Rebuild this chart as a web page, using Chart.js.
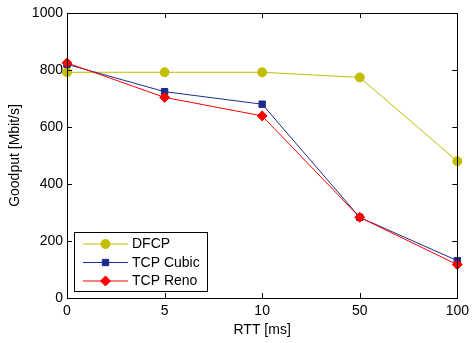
<!DOCTYPE html>
<html>
<head>
<meta charset="utf-8">
<script src="https://cdn.jsdelivr.net/npm/chart.js@4/dist/chart.umd.min.js"></script>
<style>
  html, body { margin: 0; padding: 0; background: #fff; }
  #wrap { width: 474px; height: 343px; }
</style>
</head>
<body>
<div id="wrap"><canvas id="chart" width="474" height="343"></canvas></div>
<script>
const rttLabels = ["0", "5", "10", "50", "100"];
const dfcp = [792, 792, 792, 774, 480];
const tcpCubic = [820, 724, 680, 283, 131];
const tcpReno = [825, 704, 639, 283, 117];
const yTicks = [0, 200, 400, 600, 800, 1000];

const FONT = "'Liberation Sans', Arial, sans-serif";

// MATLAB style box with inward ticks + legend inside the plot
const boxPlugin = {
  id: "matlabBox",
  afterDatasetsDraw(chart) {
    const { ctx, chartArea: a, scales: { x, y } } = chart;
    ctx.save();
    ctx.strokeStyle = "#000";
    ctx.lineWidth = 1;
    ctx.strokeRect(Math.round(a.left) + 0.5, Math.round(a.top) + 0.5, Math.round(a.right - a.left), Math.round(a.bottom - a.top));
    ctx.beginPath();
    const tl = 5;
    y.ticks.forEach((t) => {
      const py = Math.round(y.getPixelForValue(t.value)) + 0.5;
      ctx.moveTo(a.left, py); ctx.lineTo(a.left + tl, py);
      ctx.moveTo(a.right, py); ctx.lineTo(a.right - tl, py);
    });
    x.ticks.forEach((t, i) => {
      const px = Math.round(x.getPixelForTick(i)) + 0.5;
      ctx.moveTo(px, a.bottom); ctx.lineTo(px, a.bottom - tl);
      ctx.moveTo(px, a.top); ctx.lineTo(px, a.top + tl);
    });
    ctx.stroke();

    // legend
    const lx = 74.5, ly = 232.5, lw = 133, lh = 59;
    ctx.fillStyle = "#fff";
    ctx.fillRect(lx, ly, lw, lh);
    ctx.strokeRect(lx, ly, lw, lh);
    ctx.font = "14px " + FONT;
    ctx.textBaseline = "middle";
    chart.data.datasets.forEach((ds, i) => {
      const yy = 244 + i * 18.5;
      ctx.strokeStyle = ds.borderColor;
      ctx.lineWidth = 1;
      ctx.beginPath();
      ctx.moveTo(83, yy); ctx.lineTo(128, yy);
      ctx.stroke();
      ctx.fillStyle = ds.borderColor;
      Chart.helpers.drawPoint(ctx, { pointStyle: ds.pointStyle, radius: ds.pointRadius, rotation: 0, borderWidth: 1 }, 105.5, yy);
      ctx.fillStyle = "#000";
      ctx.fillText(ds.label, 132, yy + 0.5);
    });
    ctx.restore();
  }
};

new Chart(document.getElementById("chart"), {
  type: "line",
  data: {
    labels: rttLabels,
    datasets: [
      {
        label: "DFCP",
        data: dfcp,
        borderColor: "#c2bd00",
        backgroundColor: "#c2bd00",
        pointStyle: "circle",
        pointRadius: 4.5,
        order: 3
      },
      {
        label: "TCP Cubic",
        data: tcpCubic,
        borderColor: "#1c2b8e",
        backgroundColor: "#1c2b8e",
        pointStyle: "rect",
        pointRadius: 4.5,
        order: 2
      },
      {
        label: "TCP Reno",
        data: tcpReno,
        borderColor: "#ff0000",
        backgroundColor: "#ff0000",
        pointStyle: "rectRot",
        pointRadius: 5,
        order: 1
      }
    ]
  },
  options: {
    responsive: false,
    animation: false,
    layout: { padding: { left: 0, right: 15, top: 13, bottom: 0 } },
    elements: {
      line: { borderWidth: 1, tension: 0 },
      point: { borderWidth: 1, hoverRadius: 5 }
    },
    datasets: { line: { clip: false } },
    plugins: {
      legend: { display: false },
      tooltip: { enabled: false }
    },
    scales: {
      x: {
        type: "category",
        offset: false,
        grid: { display: false, drawTicks: false },
        border: { display: false },
        ticks: { color: "#000", font: { family: FONT, size: 14 }, padding: 5, maxRotation: 0 },
        title: { display: true, text: "RTT [ms]", color: "#000", font: { family: FONT, size: 14 }, padding: { top: 0, bottom: 4 } },
        afterFit(scale) { scale.height = 45; }
      },
      y: {
        min: 0,
        max: 1000,
        afterBuildTicks(scale) { scale.ticks = yTicks.map((v) => ({ value: v })); },
        grid: { display: false, drawTicks: false },
        border: { display: false },
        ticks: { color: "#000", font: { family: FONT, size: 14 }, padding: 4, callback: (v) => String(v) },
        title: { display: true, text: "Goodput [Mbit/s]", color: "#000", font: { family: FONT, size: 14 }, padding: { top: 7, bottom: 0 } },
        afterFit(scale) { scale.width = 67; }
      }
    }
  },
  plugins: [boxPlugin]
});
</script>
</body>
</html>
